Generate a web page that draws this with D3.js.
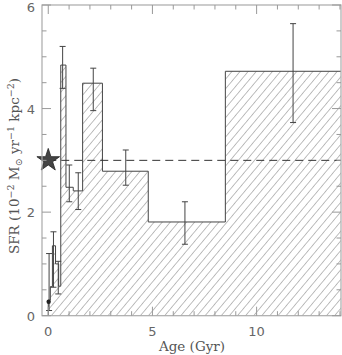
<!DOCTYPE html>
<html><head><meta charset="utf-8">
<script src="https://cdn.jsdelivr.net/npm/d3@7"></script>
<style>body{margin:0;background:#fff}svg{display:block}</style>
</head><body><svg id="c" width="342" height="355"></svg>
<script>
// Histogram bin edges (Gyr) and SFR values (1e-2 Msun/yr/kpc^2)
const binEdges = [0, 0.1, 0.2, 0.35, 0.5, 0.6, 0.85, 1.2, 1.65, 2.6, 4.8, 8.5, 14.05];
const binSFR   = [0.3, 0.56, 1.35, 1.0, 0.57, 4.84, 2.48, 2.41, 4.49, 2.79, 1.81, 4.72];
// error bars: age, low, high
const errAge = [0.04, 0.25, 0.48, 0.69, 1.01, 1.44, 2.16, 3.72, 6.56, 11.75];
const errLo  = [0.1, 0.55, 0.42, 4.39, 2.2, 2.05, 3.96, 2.52, 1.38, 3.73];
const errHi  = [1.2, 1.62, 1.05, 5.2, 2.91, 2.76, 4.78, 3.2, 2.2, 5.64];
const pointAge = [0.02], pointSFR = [0.27];
const starAge = 0, starSFR = 3.0;
const refLevel = 3.0;
const xTicks = [0, 5, 10], yTicks = [0, 2, 4, 6];

const svg = d3.select('#c');
const L = 42, R = 341, T = 5, B = 315.7;
const x = d3.scaleLinear().domain([-0.3, 14.05]).range([L, R]);
const y = d3.scaleLinear().domain([0, 6]).range([B, T]);

const defs = svg.append('defs');
const pat = defs.append('pattern').attr('id','hatch').attr('patternUnits','userSpaceOnUse')
  .attr('width',6.2).attr('height',10).attr('patternTransform','rotate(40)');
pat.append('line').attr('x1',0).attr('y1',0).attr('x2',0).attr('y2',10)
  .attr('stroke','#707070').attr('stroke-width',0.9);

// step histogram path
const pts = [[binEdges[0], 0]];
binSFR.forEach((v,i)=>{ pts.push([binEdges[i], v]); pts.push([binEdges[i+1], v]); });
pts.push([binEdges[binEdges.length-1], 0]);
const line = d3.line().x(d=>x(d[0])).y(d=>y(d[1]));
svg.append('path').attr('d', line(pts)+'Z').attr('fill','url(#hatch)').attr('stroke','none');
svg.append('path').attr('d', line(pts.slice(0, pts.length-1))).attr('fill','none')
  .attr('stroke','#444').attr('stroke-width',1);

// dashed line
svg.append('line').attr('x1', x(0)).attr('x2', x(14.05)).attr('y1', y(refLevel)).attr('y2', y(refLevel))
  .attr('stroke','#333').attr('stroke-width',1).attr('stroke-dasharray','8,5');

// error bars
errAge.forEach((a,i)=>{
  const g = svg.append('g').attr('stroke','#444').attr('stroke-width',1);
  g.append('line').attr('x1',x(a)).attr('x2',x(a)).attr('y1',y(errLo[i])).attr('y2',y(errHi[i]));
  g.append('line').attr('x1',x(a)-3).attr('x2',x(a)+3).attr('y1',y(errLo[i])).attr('y2',y(errLo[i]));
  g.append('line').attr('x1',x(a)-3).attr('x2',x(a)+3).attr('y1',y(errHi[i])).attr('y2',y(errHi[i]));
});
pointAge.forEach((a,i)=>{
  svg.append('circle').attr('cx',x(a)).attr('cy',y(pointSFR[i])).attr('r',2.2).attr('fill','#222');
});

// star
const star = d3.symbol().type(d3.symbolStar).size(160);
svg.append('path').attr('d', star()).attr('transform',`translate(${x(starAge)},${y(starSFR)})`)
  .attr('fill','#444').attr('stroke','#222').attr('stroke-width',0.8);

// frame
svg.append('rect').attr('x',L).attr('y',T).attr('width',R-L).attr('height',B-T)
  .attr('fill','none').attr('stroke','#aaa').attr('stroke-width',1.2);

// ticks
const tk = svg.append('g').attr('stroke','#999').attr('stroke-width',1);
d3.range(0, 15, 1).forEach(v=>{
  const len = v % 5 === 0 ? 9 : 4.5;
  tk.append('line').attr('x1',x(v)).attr('x2',x(v)).attr('y1',B).attr('y2',B-len);
  tk.append('line').attr('x1',x(v)).attr('x2',x(v)).attr('y1',T).attr('y2',T+len);
});
d3.range(0, 6.01, 0.5).forEach(v=>{
  const len = Math.abs(v % 2) < 1e-6 ? 9 : 4.5;
  tk.append('line').attr('x1',L).attr('x2',L+len).attr('y1',y(v)).attr('y2',y(v));
  tk.append('line').attr('x1',R).attr('x2',R-len).attr('y1',y(v)).attr('y2',y(v));
});

const lab = svg.append('g').attr('font-family','DejaVu Sans').attr('font-size',13).attr('fill','#666');
xTicks.forEach(v=>lab.append('text').attr('x',x(v)).attr('y',336).attr('text-anchor','middle').text(v));
yTicks.forEach(v=>lab.append('text').attr('x',35).attr('y',Math.max(y(v)+5, 12)).attr('text-anchor','end').text(v));

svg.append('text').attr('x',192).attr('y',351).attr('text-anchor','middle')
  .attr('font-family','DejaVu Serif').attr('font-size',13.5).attr('fill','#555').text('Age (Gyr)');

const yl = svg.append('text').attr('transform','translate(19,166) rotate(-90)').attr('text-anchor','middle')
  .attr('font-family','DejaVu Serif').attr('font-size',13.5).attr('fill','#555');
yl.append('tspan').text('SFR (10');
yl.append('tspan').attr('font-size',9.5).attr('dy',-5).text('−2');
yl.append('tspan').attr('dy',5).text(' M');
yl.append('tspan').attr('font-size',9.5).attr('dy',3).text('⊙');
yl.append('tspan').attr('dy',-3).text(' yr');
yl.append('tspan').attr('font-size',9.5).attr('dy',-5).text('−1');
yl.append('tspan').attr('dy',5).text(' kpc');
yl.append('tspan').attr('font-size',9.5).attr('dy',-5).text('−2');
yl.append('tspan').attr('dy',5).text(')');
</script></body></html>
